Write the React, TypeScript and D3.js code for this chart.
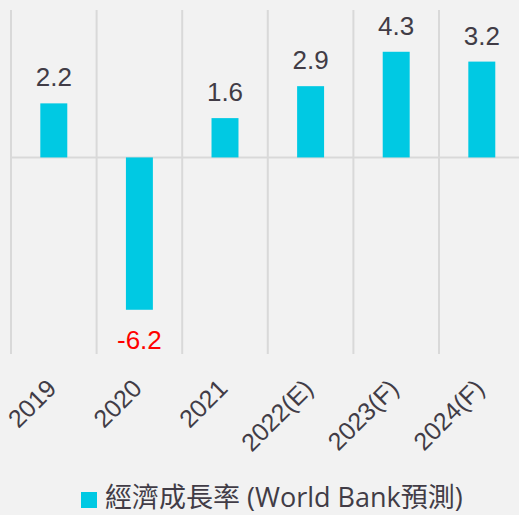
import * as d3 from "d3";

const W = 519;
const H = 515;
const MARGIN = { top: 10, bottom: 161, left: 11 };
const STEP = 85.6;

// categories and values
const years = ["2019", "2020", "2021", "2022(E)", "2023(F)", "2024(F)"];
const growth = [2.2, -6.2, 1.6, 2.9, 4.3, 3.9];
const growthLabels = ["2.2", "-6.2", "1.6", "2.9", "4.3", "3.2"];
const legendLabel = "經濟成長率 (World Bank預測)";

const BAR = "#00C9E3";
const TEXT = "#413c46";
const GRID = "#d9d9d9";

export default function App() {
  const x = d3
    .scaleBand<string>()
    .domain(years)
    .range([MARGIN.left, MARGIN.left + STEP * years.length])
    .paddingInner(0)
    .paddingOuter(0);

  const y = d3
    .scaleLinear()
    .domain([-8, 6])
    .range([H - MARGIN.bottom, MARGIN.top]);

  const barW = x.bandwidth() * 0.315;
  const edges = years.map((d) => x(d) as number).concat([x.range()[1]]);

  return (
    <svg
      width={W}
      height={H}
      style={{ position: "absolute", left: 0, top: 0, background: "#f2f2f2" }}
    >
      <rect width={W} height={H} fill="#f2f2f2" />
      {/* vertical grid */}
      {edges.map((e, i) => (
        <line key={i} x1={e} x2={e} y1={y(6)} y2={y(-8)} stroke={GRID} strokeWidth={2} />
      ))}
      {/* zero line */}
      <line x1={MARGIN.left} x2={W} y1={y(0)} y2={y(0)} stroke={GRID} strokeWidth={2} />

      {years.map((yr, i) => {
        const cx = (x(yr) as number) + x.bandwidth() / 2;
        const v = growth[i];
        const top = y(Math.max(0, v));
        const bot = y(Math.min(0, v));
        return (
          <g key={yr}>
            <rect x={cx - barW / 2} y={top} width={barW} height={bot - top} fill={BAR} />
            <text
              x={cx}
              y={v >= 0 ? top - 17 : bot + 39}
              textAnchor="middle"
              fontFamily="'Liberation Sans', Arial, sans-serif"
              fontSize={26}
              fill={v >= 0 ? TEXT : "#ff0000"}
            >
              {growthLabels[i]}
            </text>
            <text
              transform={`translate(${cx + 4},${390}) rotate(-45)`}
              textAnchor="end"
              fontFamily="'Liberation Sans', Arial, sans-serif"
              fontSize={25}
              fill={TEXT}
            >
              {yr}
            </text>
          </g>
        );
      })}

      {/* legend */}
      <rect x={81} y={492} width={16} height={16} fill={BAR} />
      <text
        x={105}
        y={507}
        fontFamily="'Open Sans', 'Noto Sans CJK TC', sans-serif"
        fontSize={27}
        fill={TEXT}
      >
        {legendLabel}
      </text>
    </svg>
  );
}
